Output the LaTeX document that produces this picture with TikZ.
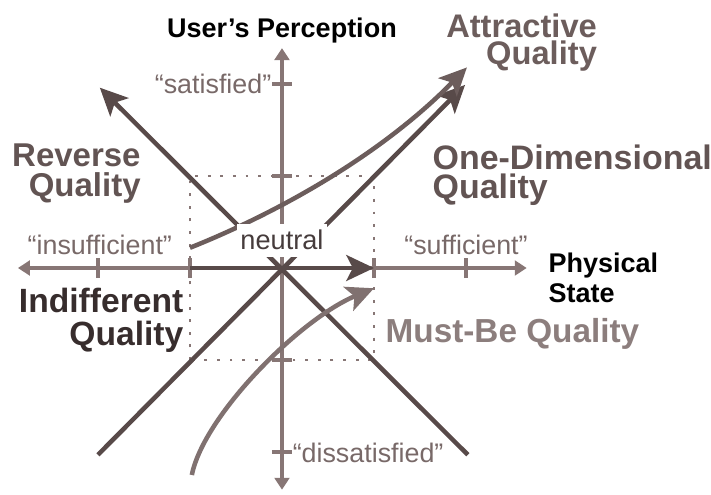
\documentclass[tikz,border=0pt]{standalone}
\usepackage{fontspec}
\setmainfont{Liberation Sans}
\usetikzlibrary{arrows.meta}

\definecolor{axisgray}{RGB}{135,118,117}
\definecolor{linedark}{RGB}{88,74,73}
\definecolor{attrcol}{RGB}{108,93,92}
\definecolor{mustcol}{RGB}{128,113,112}
\definecolor{musttext}{RGB}{140,126,125}
\definecolor{quotecol}{RGB}{120,105,104}
\definecolor{labelcol}{RGB}{98,84,83}
\definecolor{indiffcol}{RGB}{55,45,45}

\begin{document}
\begin{tikzpicture}[
    axis/.style={axisgray, line width=1.3pt,
      {Triangle[length=1.3mm,width=1.6mm]}-{Triangle[length=1.3mm,width=1.6mm]}},
    tick/.style={axisgray, line width=1.3pt},
    quality/.style={line width=1.4pt, -{Stealth[length=3mm,width=2.8mm,inset=0.7mm]}},
    qlabel/.style={inner sep=0pt, font=\fontsize{10.3}{9}\selectfont\bfseries},
    state/.style={inner sep=0pt, text=quotecol, font=\fontsize{8.3}{10}\selectfont},
    axislabel/.style={inner sep=0pt, font=\fontsize{8.35}{9.2}\selectfont\bfseries},
  ]
      \useasboundingbox (-3.065,-2.457) rectangle (4.663,2.913);
      \draw [axisgray, line width=0.9pt, dash pattern=on 0.9pt off 3pt] (-1,-1) rectangle (1,1);
      \draw [axis] (-2.87,0) -- (2.66,0);
      \draw [axis] (0,-2.41) -- (0,2.39);
      \foreach \t in {-2,-1,1,2}{
        \draw [tick] (\t,-0.11) -- (\t,0.11);
        \draw [tick] (-0.11,\t) -- (0.11,\t);
      }
      \draw [quality, linedark] (2.02,-2.03) -- (-1.98,1.96);
      \draw [quality, linedark] (-2,-2.03) -- (1.99,1.99);
      \draw [quality, linedark] (-1,0) -- (1.0,0);
      \draw [quality, attrcol] (-1,0.22) .. controls (0,0.62) and (1.1,1.25) .. (2.01,2.18);
      \draw [quality, mustcol] (-0.98,-2.25) .. controls (-0.85,-1.6) and (0.2,-0.55) .. (1.0,-0.22);

      \node [fill=white, inner xsep=1pt, inner ysep=2pt, anchor=base, text={rgb,255:red,70;green,60;blue,60},
        font=\fontsize{8.4}{10}\selectfont] (neutral) at (0,0.196) {neutral};

      \node [state, anchor=base east] (satisfied) at (-0.11,1.90) {“satisfied”};
      \node [state, anchor=base west] (dissatisfied) at (0.11,-2.11) {“dissatisfied”};
      \node [state, anchor=base] (insufficient) at (-1.98,0.15) {“insufficient”};
      \node [state, anchor=base] (sufficient) at (2.0,0.15) {“sufficient”};

      \node [axislabel, anchor=base] (perception) at (0,2.51) {User’s Perception};
      % two-line labels sit on the baseline of their last line
      \node [axislabel, anchor=base west, align=left] (physical) at (2.89,-0.37) {Physical\\State};

      \node [qlabel, text=attrcol, anchor=base east, align=right,
        font=\fontsize{10.1}{8.5}\selectfont\bfseries] (attractive) at (3.43,2.21) {Attractive\\Quality};
      \node [qlabel, text=labelcol, anchor=base west, align=left,
        font=\fontsize{10.5}{8.7}\selectfont\bfseries] (onedim) at (1.63,0.76) {One-Dimensional\\Quality};
      \node [qlabel, text=labelcol, anchor=base east, align=right,
        font=\fontsize{10.2}{9.1}\selectfont\bfseries] (reverse) at (-1.53,0.78) {Reverse\\Quality};
      \node [qlabel, text=indiffcol, anchor=base east, align=right,
        font=\fontsize{10.4}{10.2}\selectfont\bfseries] (indifferent) at (-1.065,-0.84) {Indifferent\\Quality};
      \node [qlabel, text=musttext, anchor=base west] (mustbe) at (1.12,-0.815) {Must-Be Quality};
    \end{tikzpicture}
\end{document}
